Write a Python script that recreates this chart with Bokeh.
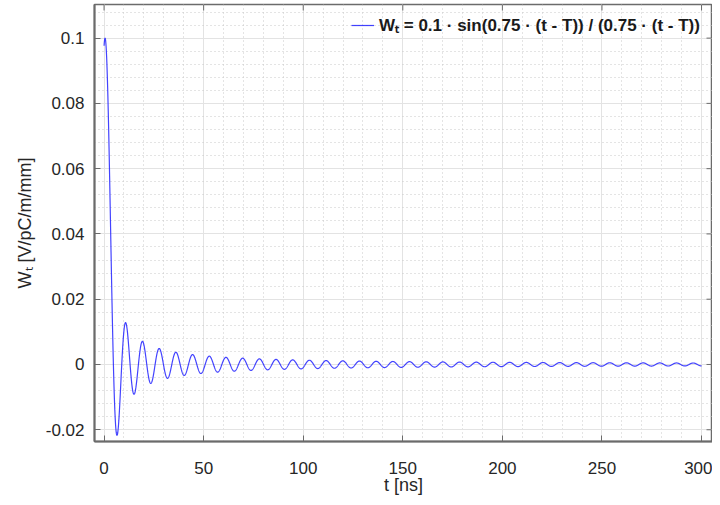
import numpy as np
from bokeh.plotting import figure
from bokeh.models import Range1d, Legend, LegendItem, SingleIntervalTicker
from bokeh.embed import file_html
from bokeh.resources import INLINE

AMPLITUDE = 0.1
K = 0.75
T_SHIFT = 0.5
T_START = 0.0
T_END = 300.0
N_SAMPLES = 3001

X_TICKS = [0, 50, 100, 150, 200, 250, 300]
Y_TICKS = [-0.02, 0.0, 0.02, 0.04, 0.06, 0.08, 0.1]
Y_TICK_LABELS = ["-0.02", "0", "0.02", "0.04", "0.06", "0.08", "0.1"]
LEGEND_LABEL = "Wₜ = 0.1 · sin(0.75 · (t - T)) / (0.75 · (t - T))"
X_LABEL = "t [ns]"
Y_LABEL = "Wₜ [V/pC/m/mm]"

t = np.linspace(T_START, T_END, N_SAMPLES)
w = AMPLITUDE * np.sinc(K * (t - T_SHIFT) / np.pi)

FONT = "Liberation Sans"
AX_COLOR = "#6b6b6b"
TXT = "#262626"

X0, X1 = -4.8, 305.5
Y0, Y1 = -0.0236, 0.1103
W, H = 712, 497
BL, BR, BT = 94, 0, 4

p = figure(width=W, height=H, output_backend="svg", toolbar_location=None,
           x_range=Range1d(X0, X1), y_range=Range1d(Y0, Y1),
           min_border_left=BL, min_border_right=BR, min_border_top=BT, min_border_bottom=0)
p.background_fill_color = "white"
p.border_fill_color = "white"
p.outline_line_color = AX_COLOR
p.outline_line_width = 1.5

r = p.line(t, w, line_color="#2222ff", line_width=1.2, line_alpha=0.85)

xt = SingleIntervalTicker(interval=50, num_minor_ticks=5)
yt = SingleIntervalTicker(interval=0.02, num_minor_ticks=5)
p.xaxis.ticker = xt
p.yaxis.ticker = yt
p.yaxis.major_label_overrides = {v: s for v, s in zip(Y_TICKS, Y_TICK_LABELS)}

for ax in (p.xaxis[0], p.yaxis[0]):
    ax.axis_line_color = AX_COLOR
    ax.axis_line_width = 2
    ax.major_tick_line_color = AX_COLOR
    ax.major_tick_in = 6
    ax.major_tick_out = 0
    ax.minor_tick_in = 0
    ax.minor_tick_out = 0
    ax.major_label_text_font = FONT
    ax.major_label_text_font_size = "17px"
    ax.major_label_text_color = TXT
    ax.axis_label_text_font = FONT
    ax.axis_label_text_font_size = "18px"
    ax.axis_label_text_font_style = "normal"
    ax.axis_label_text_color = TXT

p.xaxis.axis_label = X_LABEL
p.yaxis.axis_label = Y_LABEL
p.xaxis.major_label_standoff = 20
p.xaxis.axis_label_standoff = -2
p.yaxis.major_label_standoff = 10
p.yaxis.axis_label_standoff = 8

# mirrored ticks on the top and right frame edges (6 px long, drawn inward)
frame_w = W - BL - BR
frame_h = 438
dx = 6 * (X1 - X0) / frame_w
dy = 6 * (Y1 - Y0) / frame_h
xt_arr = np.array(X_TICKS, dtype=float)
yt_arr = np.array(Y_TICKS, dtype=float)
p.segment(x0=xt_arr, y0=np.full_like(xt_arr, Y1), x1=xt_arr, y1=np.full_like(xt_arr, Y1 - dy),
          line_color=AX_COLOR, line_width=1)
p.segment(x0=np.full_like(yt_arr, X1), y0=yt_arr, x1=np.full_like(yt_arr, X1 - dx), y1=yt_arr,
          line_color=AX_COLOR, line_width=1)

for g in (p.xgrid[0], p.ygrid[0]):
    g.grid_line_color = "#e3e3e3"
    g.grid_line_width = 1
    g.minor_grid_line_color = "#c8c8c8"
    g.minor_grid_line_dash = "1 3"
    g.minor_grid_line_width = 1

legend = Legend(items=[LegendItem(label=LEGEND_LABEL, renderers=[r])],
                location=(257, 405))
legend.label_text_font = FONT
legend.label_text_font_size = "17px"
legend.label_text_font_style = "bold"
legend.label_text_color = "#1a1a1a"
legend.border_line_alpha = 0
legend.background_fill_alpha = 0
legend.glyph_width = 23
legend.label_standoff = 5
legend.margin = 0
legend.padding = 0
p.add_layout(legend)

open("out.html", "w").write(file_html(p, INLINE))
